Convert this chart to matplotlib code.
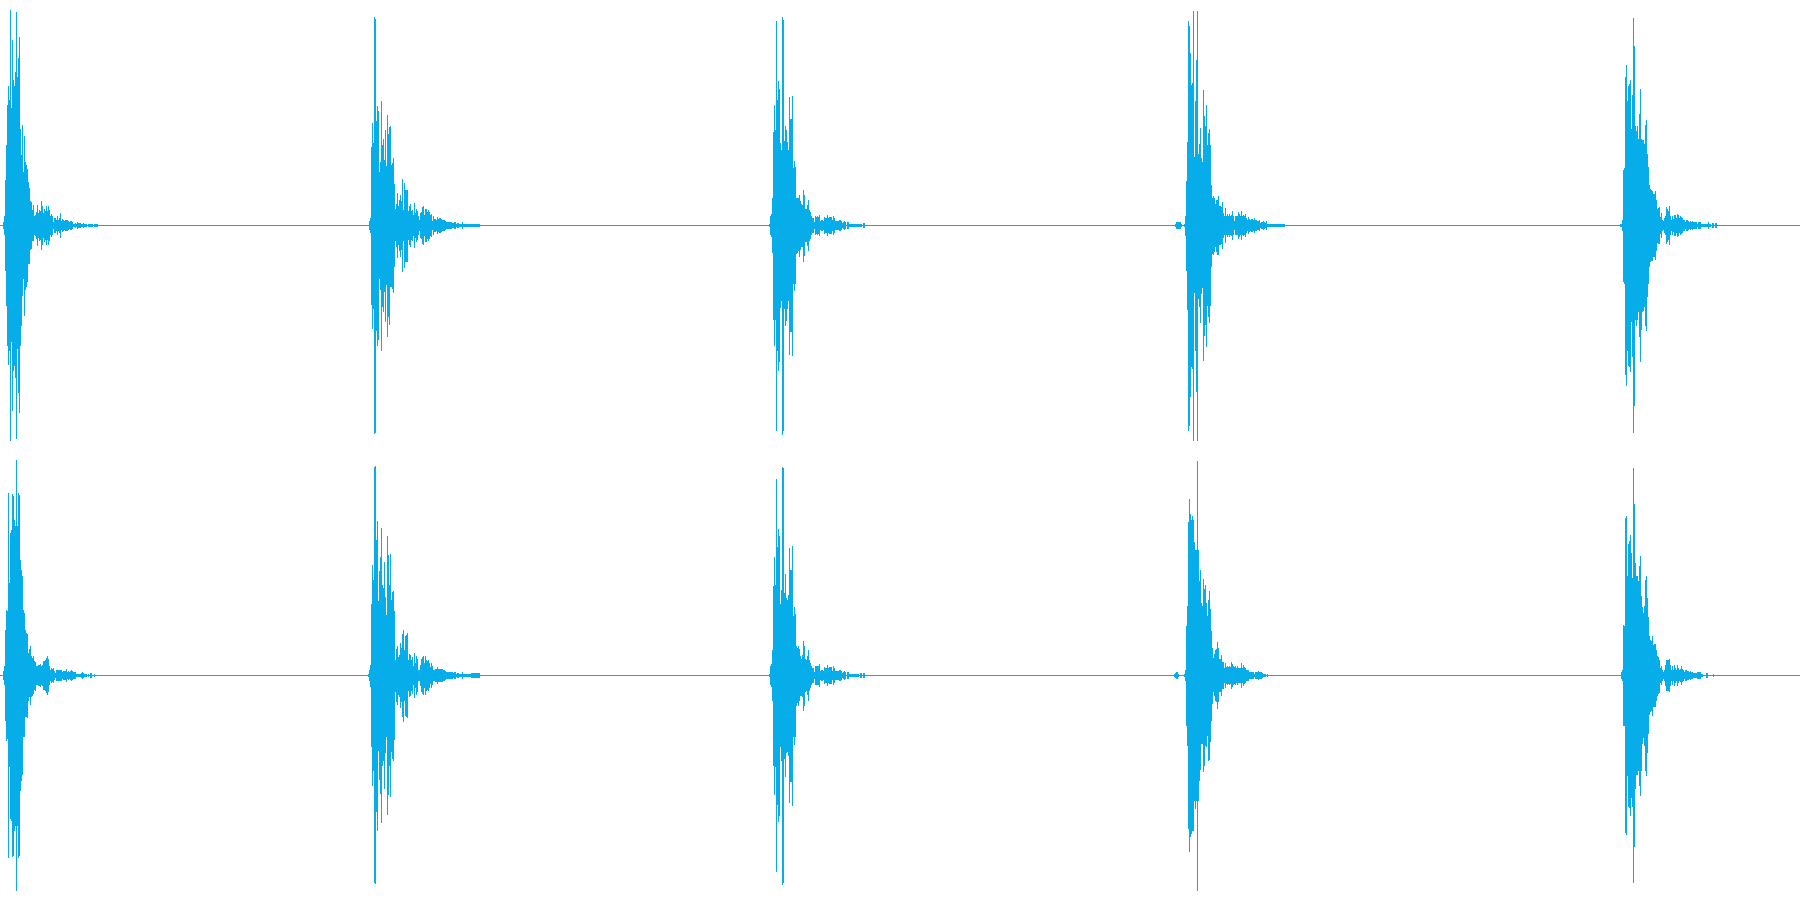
# -*- coding:utf-8 -*-
import numpy as np
import matplotlib
matplotlib.use('Agg')
import matplotlib.pyplot as plt

# waveform peaks per display column, two channels, five clicks
# level scale: 225 = full scale. dn lists stop once the tail is symmetric
n_cols = 1800
full_scale = 225
wave_color = '#06ADE8'

ch1_start = [3, 369, 769, 1175, 1620]
ch2_start = [3, 368, 769, 1174, 1621]

c1_up = [3,9,45,80,120,139,125,215,117,185,145,139,153,213,148,167,188,96,70,100,53,89,63,60,56,43,37,24,23,15,20,9,10,13,20,12,15,14,24,19,12,16,14,19,14,19,15,9,11,9,3,7,7,5,9,5,7,12,4,6,5,4,5,5,5,4,3,4,4,3,1,1,2,1,3,2,2,2,1,1,2,1,1,1,0,1,1,1,1,1,0,1,1,1,1]
c1_dn = [3,9,45,80,120,139,125,215,116,185,145,140,152,213,123,167,187,120,100,70,53,90,64,61,56,38,38,24,23,15,15,9,10,13,20,12,15,14,24,19]
c2_up = [4,7,78,102,82,208,206,104,119,114,53,63,124,80,86,65,95,59,110,91,98,99,60,62,67,41,16,21,32,19,25,30,24,46,15,42,35,35,35,14,19,21,14,15,10,22,12,16,14,9,5,12,13,18,19,10,16,16,13,15,13,10,11,4,9,6,6,5,8,6,7,7,6,5,5,5,4,3,3,3,3,3,3,2,2,3,3,1,2,2,1,1,1,3,1,1,1,1,1,1,1,1,1,1,1,1,1,1,1,1,1]
c2_dn = [4,7,79,103,83,208,207,105,120,114,53,64,125,81,86,66,96,59,111,91,99,61,61,63,67,41,15,21,32,19,25,31,24,46,15,42,36,36,36,14]
c3_up = [1,9,11,27,93,120,95,204,125,144,136,82,75,208,205,84,99,95,83,75,128,106,106,129,57,64,58,27,27,27,30,24,21,20,35,30,16,16,20,25,15,13,9,7,7,3,9,8,9,8,10,4,5,5,4,8,7,7,10,7,8,8,8,5,9,7,4,4,4,4,5,5,4,2,3,4,3,0,3,3,1,1,1,1,1,1,1,1,1,1,1,1,1,0,2,2]
c3_dn = [1,9,11,27,94,120,94,205,125,145,136,82,75,209,205,83,100,95,83,75,129,106,106,130,58,65,58,28,27,25,31,24,21,21,36,30]
c4_up = [1,3,3,3,3,3,1,0,0,1,9,44,83,204,199,172,140,142,214,68,124,165,214,71,81,97,67,63,135,109,99,120,80,92,96,80,40,27,29,27,21,25,25,29,19,19,18,23,12,9,17,9,11,9,11,9,10,14,9,4,9,9,9,13,11,9,14,9,10,9,11,7,5,8,6,5,6,6,5,7,5,5,4,4,5,2,3,3,4,3,2,4,1,1,1,1,1,1,1,1,1,1,1,1,1,1,1,1,1,1]
c4_dn = [1,3,3,3,3,3,1,0,0,1,10,45,84,205,200,171,141,143,215,67,125,166,215,73,81,97,68,62,135,110,99,121,80,91,97,80,41,28,29,26,21,26,29]
c5_up = [1,1,5,55,57,148,160,124,139,141,145,96,130,207,179,99,94,99,86,111,136,86,85,85,81,100,105,71,58,40,36,35,34,31,31,34,25,16,17,18,8,12,5,4,7,9,18,16,14,19,9,5,9,6,10,10,7,11,10,7,9,8,7,5,5,3,5,5,4,3,4,3,4,3,3,3,3,1,3,3,3,1,1,1,1,1,1,1,3,1,1,0,2,2,0,2,2]
c5_dn = [1,1,5,56,58,149,160,125,140,141,146,96,131,207,180,94,100,94,86,111,136,104,86,85,81,100,105,71,58,41,36,35,35,31,31,34,25,17,18,18]

d1_up = [4,9,45,65,64,182,92,142,145,181,179,155,149,215,149,182,180,115,105,99,65,62,45,42,41,22,26,29,19,17,19,14,13,9,9,10,10,11,9,10,14,14,15,17,19,16,9,5,7,6,7,4,2,5,5,5,5,5,5,3,4,4,4,6,3,4,3,4,5,4,3,3,3,1,1,1,1,1,2,3,2,1,1,1,0,1,0,2,2,0,0,1]
d1_dn = [4,9,45,65,63,182,91,143,145,181,180,155,150,215,150,182,180,115,105,99,61,61,41,41,42,25,21,29,21,20,18,14,15]
d2_up = [1,5,10,71,110,95,208,209,135,154,74,104,118,147,90,87,113,78,60,139,120,90,121,75,83,84,64,15,26,29,18,20,32,27,41,45,25,39,40,42,15,21,20,15,18,9,22,12,19,16,5,5,10,16,18,19,12,19,15,14,15,12,8,12,9,5,5,6,6,8,6,6,6,6,6,5,5,4,3,3,3,3,3,3,3,2,3,3,1,2,2,1,1,1,3,1,1,1,1,1,1,1,1,2,2,2,2,2,2,2,2,2]
d2_dn = [1,5,11,71,110,95,207,208,136,155,75,104,118,147,90,85,113,77,61,139,119,90,121,76,83,85,64,16,26,29,19,21,32,26,41,46,25,40,41,42]
d3_up = [1,9,11,25,89,118,90,196,128,146,139,71,85,208,207,82,101,77,75,80,127,105,105,129,59,68,61,29,27,29,26,19,16,20,34,29,16,15,19,25,15,12,9,7,7,3,9,9,9,9,11,4,5,5,4,8,7,7,10,7,8,8,8,4,9,7,4,4,4,4,5,5,4,2,3,4,3,0,3,3,1,1,1,1,1,1,1,1,1,1,0,2,2,0,2,2]
d3_dn = [1,9,11,25,90,119,91,196,129,146,140,71,85,209,207,83,101,77,76,80,127,106,106,130,61,69,61,30,27,30,25,20,20,21,35,30]
d4_up = [1,2,3,3,1,0,0,0,0,0,1,5,49,69,153,176,161,155,159,155,133,125,125,214,125,94,105,72,69,96,86,90,72,59,75,84,66,44,27,17,21,25,26,33,27,16,16,20,13,13,7,12,8,9,8,9,8,13,11,9,8,9,7,9,7,7,7,12,7,10,8,7,5,5,5,3,3,3,3,3,1,3,3,3,4,3,3,3,2,1,1,1,0,1]
d4_dn = [1,2,3,3,1,0,0,0,0,0,1,5,50,70,153,176,161,158,155,155,125,133,125,215,125,105,94,68,68,96,90,70,71,60,85,84,66,45,28,16,20,25,26,33,26]
d5_up = [3,5,50,49,157,159,99,131,134,140,122,97,207,171,112,99,99,94,109,119,79,68,62,69,95,99,77,58,39,35,34,39,30,31,31,25,19,18,15,7,9,5,3,5,10,15,15,15,16,10,5,9,5,10,7,5,10,7,5,6,9,6,5,3,5,5,4,4,3,4,3,3,2,2,2,2,3,3,3,3,1,1,0,0,0,2,2,0,0,0,0,0,1]
d5_dn = [3,5,50,50,157,159,100,131,132,140,122,131,207,171,113,99,99,95,110,120,95,68,62,70,95,100,77,58,39,36,35,40,31,31,31,25,20,18,17]

ch1_bursts = [(c1_up, c1_dn), (c2_up, c2_dn), (c3_up, c3_dn), (c4_up, c4_dn), (c5_up, c5_dn)]
ch2_bursts = [(d1_up, d1_dn), (d2_up, d2_dn), (d3_up, d3_dn), (d4_up, d4_dn), (d5_up, d5_dn)]


def envelope(starts, bursts):
    top = np.zeros(n_cols)
    bot = np.zeros(n_cols)
    for s, (up, dn) in zip(starts, bursts):
        tail = up[len(dn):]
        top[s:s + len(up)] = up
        bot[s:s + len(up)] = list(dn) + list(tail)
    return top, bot


fig = plt.figure(figsize=(18, 9), dpi=100, facecolor='white')
lw = 72.0 / fig.dpi
cols = np.arange(n_cols)

for i, (starts, bursts) in enumerate([(ch1_start, ch1_bursts), (ch2_start, ch2_bursts)]):
    ax = fig.add_axes([0, 0.5 - i * 0.5, 1, 0.5])
    top, bot = envelope(starts, bursts)
    ax.axhline(0, color=wave_color, lw=lw, antialiased=False)
    keep = (top > 0) | (bot > 0)
    ax.vlines(cols[keep], -bot[keep], top[keep], color=wave_color, lw=lw, antialiased=False)
    # limits line up with the pixel grid, agg snaps the 1px lines onto it
    ax.set_xlim(0, n_cols)
    ax.set_ylim(-full_scale, full_scale)
    ax.axis('off')

fig.savefig('out.png', dpi=100, facecolor='white')
